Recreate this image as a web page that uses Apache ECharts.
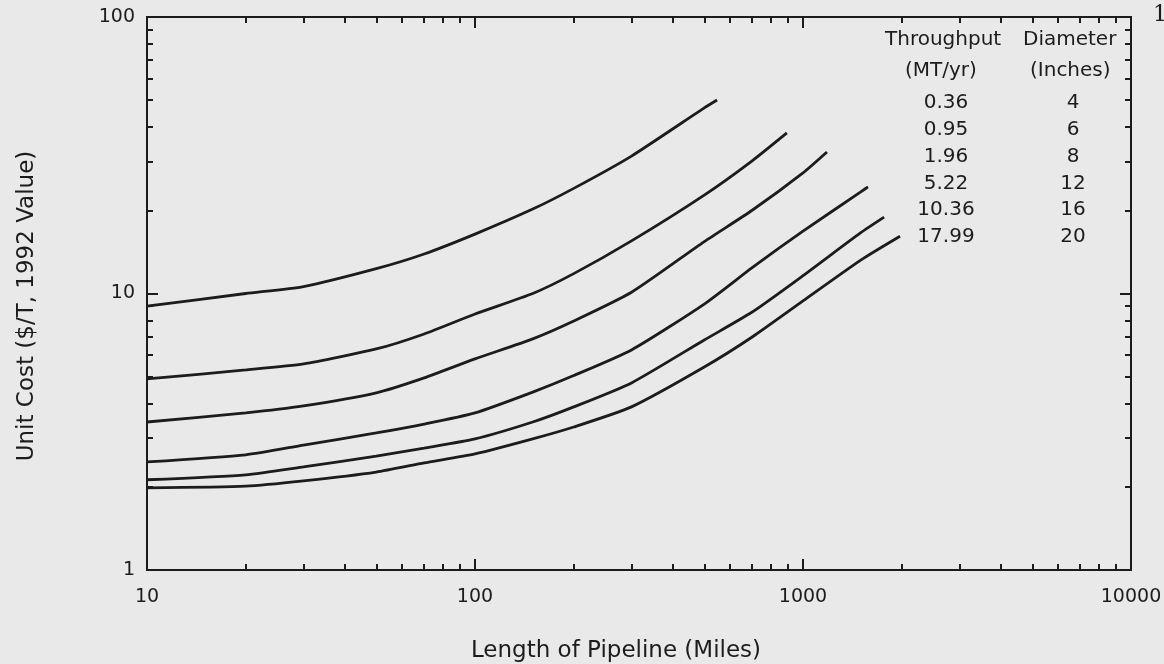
<!DOCTYPE html>
<html>
<head>
<meta charset="utf-8">
<script src="https://cdn.jsdelivr.net/npm/echarts@6/dist/echarts.min.js"></script>
<style>
  html, body { margin: 0; padding: 0; background: #e9e9e9; }
  #chart { width: 1164px; height: 664px; }
</style>
</head>
<body>
<div id="chart"></div>
<script>
// pipeline length (miles) read at these points
var miles = [10, 20, 30, 50, 70, 100, 150, 200, 300, 500, 700, 1000, 1500];

// unit cost ($/T) per throughput, null past the end of each curve
var cost036 = [9.0, 10.0, 10.6, 12.3, 13.9, 16.4, 20.2, 24.0, 31.4, 46.9, null, null, null];
var cost095 = [4.91, 5.29, 5.56, 6.30, 7.14, 8.43, 10.0, 11.8, 15.5, 22.7, 30.2, null, null];
var cost196 = [3.43, 3.70, 3.92, 4.37, 4.95, 5.80, 6.85, 7.95, 10.1, 15.4, 20.0, 27.3, null];
var cost522 = [2.46, 2.61, 2.83, 3.13, 3.37, 3.70, 4.40, 5.05, 6.25, 9.16, 12.4, 16.8, 23.3];
var cost1036 = [2.12, 2.21, 2.36, 2.58, 2.76, 2.98, 3.43, 3.89, 4.75, 6.79, 8.57, 11.6, 16.6];
var cost1799 = [1.98, 2.01, 2.10, 2.26, 2.44, 2.63, 2.98, 3.29, 3.89, 5.42, 6.96, 9.40, 13.2];

// where each curve stops
var endMiles = [547, 893, 1183, 1578, 1767, 1976];
var endCost = [50.1, 38.1, 32.5, 24.3, 18.9, 16.1];

// table in the corner
var throughput = ['0.36', '0.95', '1.96', '5.22', '10.36', '17.99'];
var diameter = ['4', '6', '8', '12', '16', '20'];

var costs = [cost036, cost095, cost196, cost522, cost1036, cost1799];

// minor tick positions in log10 space (2..9 of each decade)
function minorTicks(fromExp, toExp) {
    var out = [];
    for (var e = fromExp; e < toExp; e++) {
        for (var k = 2; k <= 9; k++) out.push(e + Math.log10(k));
    }
    return out;
}
function majorTicks(fromExp, toExp) {
    var out = [];
    for (var e = fromExp; e <= toExp; e++) out.push(e);
    return out;
}

var ink = '#1c1c1c';
var font = 'DejaVu Sans';

var series = costs.map(function (vals, i) {
    var data = [];
    for (var j = 0; j < miles.length; j++) {
        if (vals[j] != null) data.push([miles[j], vals[j]]);
    }
    data.push([endMiles[i], endCost[i]]);
    return {
        name: throughput[i],
        type: 'line',
        xAxisIndex: 0,
        yAxisIndex: 0,
        data: data,
        smooth: 0.2,
        showSymbol: false,
        lineStyle: { color: ink, width: 2.8 },
        silent: true
    };
});

// helper for the extra tick-only axes (in log10 space)
function tickAxis(gridIndex, pos, min, max, vals, len) {
    return {
        type: 'value',
        gridIndex: gridIndex,
        position: pos,
        min: min,
        max: max,
        axisLine: { show: true, onZero: false, lineStyle: { color: ink, width: 2 } },
        axisLabel: { show: true, formatter: function () { return ''; } },
        splitLine: { show: false },
        axisTick: {
            show: true,
            inside: true,
            length: len,
            customValues: vals,
            lineStyle: { color: ink, width: 2 }
        }
    };
}
// invisible partner axis so each tick grid has a full cartesian
function hiddenAxis(gridIndex) {
    return { type: 'value', gridIndex: gridIndex, min: 0, max: 1, show: false };
}

var tableGraphics = [];
var colA = 946, colB = 1073;
var tfont = '20px "' + font + '"';
tableGraphics.push({ type: 'text', left: colA - 61, top: 30, style: { text: 'Throughput', font: tfont, fill: ink } });
tableGraphics.push({ type: 'text', left: colA - 41, top: 61, style: { text: '(MT/yr)', font: tfont, fill: ink } });
tableGraphics.push({ type: 'text', left: colB - 50, top: 30, style: { text: 'Diameter', font: tfont, fill: ink } });
tableGraphics.push({ type: 'text', left: colB - 43, top: 61, style: { text: '(Inches)', font: tfont, fill: ink } });
throughput.forEach(function (t, i) {
    tableGraphics.push({
        type: 'text', x: colA, y: 103 + i * 26.8,
        style: { text: t, font: tfont, fill: ink, align: 'center', verticalAlign: 'middle' }
    });
    tableGraphics.push({
        type: 'text', x: colB, y: 103 + i * 26.8,
        style: { text: diameter[i], font: tfont, fill: ink, align: 'center', verticalAlign: 'middle' }
    });
});
tableGraphics.push({
    type: 'text', x: 1153, y: 4,
    style: { text: '1', font: '22px "DejaVu Serif"', fill: ink }
});

function gridBox() {
    return { left: 147, right: 33, top: 17, bottom: 94, outerBoundsMode: 'none', containLabel: false };
}

var chart = echarts.init(document.getElementById('chart'));
chart.setOption({
    backgroundColor: '#e9e9e9',
    animation: false,
    grid: [gridBox(), gridBox(), gridBox(), gridBox(), gridBox()],
    xAxis: [
        {
            type: 'log',
            logBase: 10,
            gridIndex: 0,
            min: 10,
            max: 10000,
            position: 'bottom',
            name: 'Length of Pipeline (Miles)',
            nameLocation: 'middle',
            nameGap: 70,
            nameTextStyle: { fontFamily: font, fontSize: 23, color: ink, padding: [0, 46, 0, 0] },
            axisLine: { show: true, lineStyle: { color: ink, width: 2 } },
            axisTick: { show: true, inside: true, length: 11, lineStyle: { color: ink, width: 2 } },
            axisLabel: {
                fontFamily: font, fontSize: 19, color: ink, margin: 18,
                formatter: function (v) { return String(Math.round(v)); }
            },
            splitLine: { show: false }
        },
        tickAxis(0, 'top', 1, 4, majorTicks(1, 4), 11),
        tickAxis(1, 'bottom', 1, 4, minorTicks(1, 4), 6),
        tickAxis(2, 'top', 1, 4, minorTicks(1, 4), 6),
        hiddenAxis(3),
        hiddenAxis(4)
    ],
    yAxis: [
        {
            type: 'log',
            logBase: 10,
            gridIndex: 0,
            min: 1,
            max: 100,
            position: 'left',
            name: 'Unit Cost ($/T, 1992 Value)',
            nameLocation: 'middle',
            nameGap: 108,
            nameTextStyle: { fontFamily: font, fontSize: 23, color: ink, padding: [0, 25, 0, 0] },
            axisLine: { show: true, lineStyle: { color: ink, width: 2 } },
            axisTick: { show: true, inside: true, length: 11, lineStyle: { color: ink, width: 2 } },
            axisLabel: {
                fontFamily: font, fontSize: 19, color: ink, margin: 12,
                formatter: function (v) { return String(Math.round(v)); }
            },
            splitLine: { show: false }
        },
        tickAxis(0, 'right', 0, 2, majorTicks(0, 2), 11),
        hiddenAxis(1),
        hiddenAxis(2),
        tickAxis(3, 'left', 0, 2, minorTicks(0, 2), 6),
        tickAxis(4, 'right', 0, 2, minorTicks(0, 2), 6)
    ],
    graphic: tableGraphics,
    series: series
});
</script>
</body>
</html>
